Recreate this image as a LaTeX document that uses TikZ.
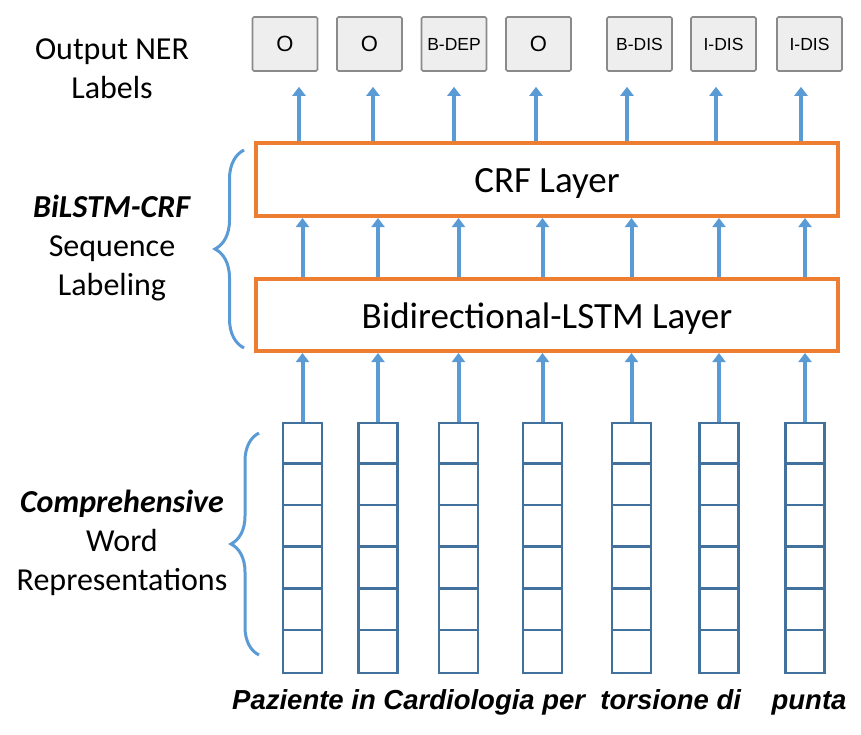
\documentclass[tikz,border=0pt]{standalone}
\usepackage{fontspec}
\setmainfont{Carlito}
\newfontfamily\arialfont{Liberation Sans}
\usetikzlibrary{arrows.meta,decorations.pathreplacing}
\definecolor{layerorange}{HTML}{ED7D31}
\definecolor{arrowblue}{HTML}{5B9BD5}
\definecolor{vecblue}{HTML}{41719C}
\definecolor{tagfill}{HTML}{EEEEEE}
\definecolor{tagdraw}{HTML}{8A8A8A}

\begin{document}
\begin{tikzpicture}[x=1pt,y=-1pt,
  layer/.style={draw=layerorange,line width=4pt,minimum width=582pt,minimum height=73pt,inner sep=0pt,font=\fontsize{37}{42}\selectfont},
  tag/.style={draw=tagdraw,fill=tagfill,line width=1.6pt,rounded corners=1.5pt,minimum width=65pt,minimum height=54pt,inner sep=0pt},
  vec/.style={draw=vecblue,line width=2.6pt,minimum width=39pt,minimum height=250pt,inner sep=0pt},
  up/.style={draw=arrowblue,line width=4pt,-{Triangle[width=13pt,length=9pt]}},
  sidelabel/.style={align=center,font=\fontsize{32}{39}\selectfont},
  curly/.style={draw=arrowblue,line width=3pt,decorate,decoration={brace,amplitude=29pt}},
  sentence/.style={anchor=base west,inner sep=0pt,font=\arialfont\bfseries\itshape\fontsize{27.5}{30}\selectfont},
  tagbig/.style={font=\arialfont\fontsize{22}{24}\selectfont},
  tagsmall/.style={font=\arialfont\fontsize{17.5}{20}\selectfont}
]
\useasboundingbox (0,0) rectangle (861,734);

% side captions
\node[sidelabel] (capout) at (112,69) {Output NER\\Labels};
\node[sidelabel] (capseq) at (112,248) {\textbf{\textit{BiLSTM-CRF}}\\Sequence\\Labeling};
\node[sidelabel] (caprep) at (122,543) {\textbf{\textit{Comprehensive}}\\Word\\Representations};

% the two network layers
\node[layer] (crf) at (547,179.5) {};
\node[layer,minimum height=72pt] (lstm) at (547,315) {};
\node[font=\fontsize{37}{42}\selectfont] (crftext) at (547,183) {CRF Layer};
\node[font=\fontsize{37}{42}\selectfont] (lstmtext) at (547,319) {Bidirectional-LSTM Layer};

% output tags
\node[tag,tagbig]   (t1) at (285,44)   {O};
\node[tag,tagbig]   (t2) at (369.5,44) {O};
\node[tag,tagsmall] (t3) at (454,44)   {B-DEP};
\node[tag,tagbig]   (t4) at (538.5,44) {O};
\node[tag,tagsmall] (t5) at (639.5,44) {B-DIS};
\node[tag,tagsmall] (t6) at (723.5,44) {I-DIS};
\node[tag,tagsmall] (t7) at (809.5,44) {I-DIS};

% word vectors, six cells each
\foreach \i/\x in {1/302.5,2/378,3/458.5,4/542.5,5/631.5,6/719,7/805}{
  \node[vec] (v\i) at (\x,548) {};
  \foreach \k in {1,...,5}
    \draw[vecblue,line width=2.6pt] ([yshift=-\k*41.67pt]v\i.north west) -- ([yshift=-\k*41.67pt]v\i.north east);
}

% input sentence
\node[sentence] (words) at (232,709) {Paziente in Cardiologia per\ \ torsione di\ \ \ \ punta};

% vectors into the LSTM layer, LSTM into CRF
\foreach \i in {1,...,7}{
  \draw[up] (v\i.north) -- (lstm.south -| v\i.north);
  \draw[up] (lstm.north -| v\i.north) -- (crf.south -| v\i.north);
}

% CRF to output tags
\foreach \i/\x in {1/299,2/373,3/454,4/536,5/627,6/716,7/801}{
  \coordinate (a\i) at (\x,100);
  \draw[up,shorten >=15pt] (crf.north -| a\i) -- (t\i.south -| a\i);
}

% grouping braces
\coordinate (b1s) at (244,348);
\coordinate (b1e) at (244,150);
\draw[curly] (b1s) -- (b1e);
\coordinate (b2s) at (259,655);
\coordinate (b2e) at (259,433);
\draw[curly,decoration={amplitude=28pt}] (b2s) -- (b2e);
\end{tikzpicture}
\end{document}
